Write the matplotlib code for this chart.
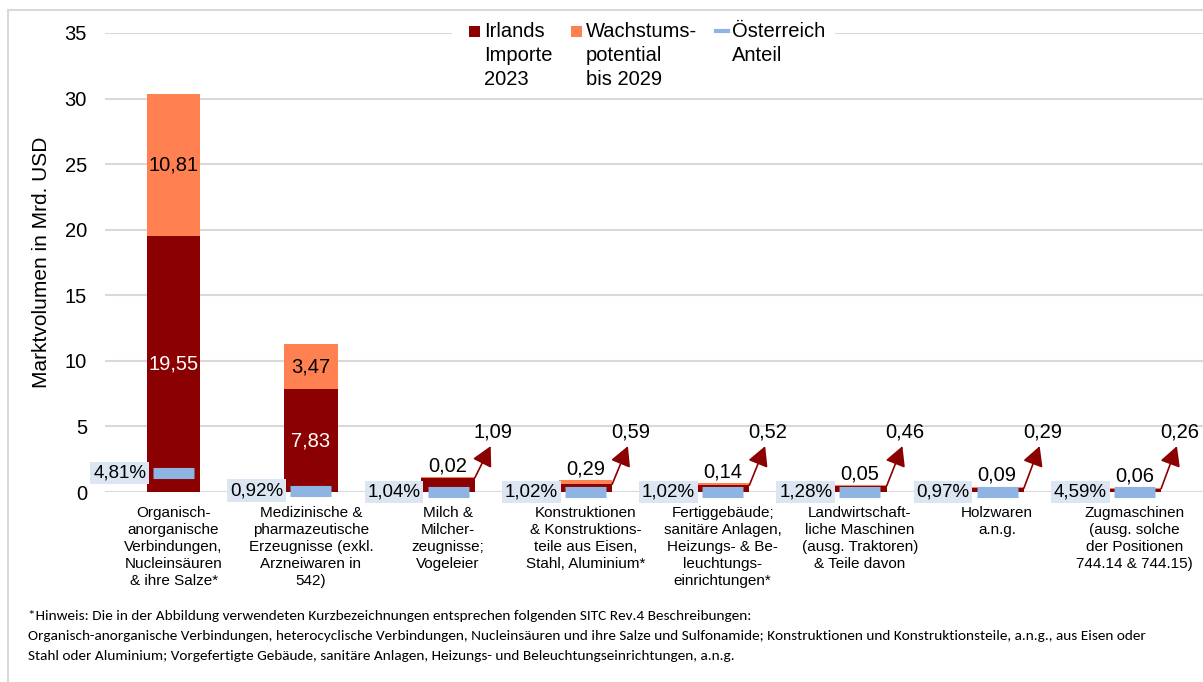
import numpy as np
import matplotlib
matplotlib.use('Agg')
import matplotlib.pyplot as plt
from matplotlib.patches import Rectangle
from matplotlib.lines import Line2D

plt.rcParams['font.family'] = ['Liberation Sans', 'DejaVu Sans']

# Daten (Mrd. USD)
kategorien = [
    'Organisch-\nanorganische\nVerbindungen,\nNucleinsäuren\n& ihre Salze*',
    'Medizinische &\npharmazeutische\nErzeugnisse (exkl.\nArzneiwaren in\n542)',
    'Milch &\nMilcher-\nzeugnisse;\nVogeleier',
    'Konstruktionen\n& Konstruktions-\nteile aus Eisen,\nStahl, Aluminium*',
    'Fertiggebäude;\nsanitäre Anlagen,\nHeizungs- & Be-\nleuchtungs-\neinrichtungen*',
    'Landwirtschaft-\nliche Maschinen\n(ausg. Traktoren)\n& Teile davon',
    'Holzwaren\na.n.g.',
    'Zugmaschinen\n(ausg. solche\nder Positionen\n744.14 & 744.15)',
]
importe_2023 = [19.55, 7.83, 1.09, 0.59, 0.52, 0.46, 0.29, 0.26]
wachstum_2029 = [10.81, 3.47, 0.02, 0.29, 0.14, 0.05, 0.09, 0.06]
anteil_at = [4.81, 0.92, 1.04, 1.02, 1.02, 1.28, 0.97, 4.59]
anteil_marker = [1.45, 0.10, 0.01, 0.01, 0.01, 0.01, 0.00, 0.01]

fussnote = ('*Hinweis: Die in der Abbildung verwendeten Kurzbezeichnungen entsprechen folgenden SITC Rev.4 Beschreibungen:\n'
            'Organisch-anorganische Verbindungen, heterocyclische Verbindungen, Nucleinsäuren und ihre Salze und Sulfonamide; '
            'Konstruktionen und Konstruktionsteile, a.n.g., aus Eisen oder\n'
            'Stahl oder Aluminium; Vorgefertigte Gebäude, sanitäre Anlagen, Heizungs- und Beleuchtungseinrichtungen, a.n.g.')

DUNKELROT = '#8B0000'
ORANGE = '#FF8050'
BLAU = '#8EB4E3'
BOX = '#DCE6F2'

def fmt(v):
    return f'{v:.2f}'.replace('.', ',')

W, H = 1203, 682
fig = plt.figure(figsize=(W / 100, H / 100), dpi=100)
ax = fig.add_axes([105 / W, 1 - 492 / H, 1 - 105 / W, (492 - 33) / H])

x = np.arange(len(kategorien))
bw = 0.39
ax.bar(x, importe_2023, bw, color=DUNKELROT, zorder=2)
ax.bar(x, wachstum_2029, bw, bottom=importe_2023, color=ORANGE, zorder=2)

# Österreich-Anteil Marker + Prozentlabels
for i in range(len(x)):
    ax.plot([x[i] - 0.15, x[i] + 0.15], [anteil_marker[i]] * 2, color=BLAU,
            lw=8, solid_capstyle='butt', zorder=3, clip_on=False)
    ax.text(x[i] - 0.2, anteil_marker[i], f'{anteil_at[i]:.2f}%'.replace('.', ','),
            ha='right', va='center', fontsize=13.5, zorder=4,
            bbox=dict(boxstyle='square,pad=0.15', fc=BOX, ec='none'))

# Wertelabels
for i in range(len(x)):
    total = importe_2023[i] + wachstum_2029[i]
    if importe_2023[i] > 5:
        ax.text(x[i], importe_2023[i] / 2, fmt(importe_2023[i]), ha='center', va='center',
                color='white', fontsize=14.5, zorder=4)
        ax.text(x[i], importe_2023[i] + wachstum_2029[i] / 2, fmt(wachstum_2029[i]),
                ha='center', va='center', color='black', fontsize=14.5, zorder=4)
    else:
        ax.annotate(fmt(wachstum_2029[i]), (x[i], total), xytext=(0, 1.5),
                    textcoords='offset points', ha='center', va='bottom', fontsize=14.5)
        ax.annotate('', xy=(x[i] + 0.31, 3.5), xytext=(x[i] + bw / 2, importe_2023[i]),
                    arrowprops=dict(arrowstyle='-|>,head_length=0.6,head_width=0.32',
                                    mutation_scale=20, color=DUNKELROT, lw=1.2,
                                    shrinkA=0, shrinkB=0), zorder=4)
        ax.text(x[i] + 0.33, 4.55, fmt(importe_2023[i]), ha='center', va='center', fontsize=14.5)

ax.set_xlim(-0.5, len(x) - 0.5)
ax.set_ylim(0, 35)
ax.set_yticks(range(0, 36, 5))
ax.yaxis.grid(True, color='#D9D9D9', lw=1.5, zorder=0)
ax.set_axisbelow(True)
for s in ax.spines.values():
    s.set_visible(False)
ax.tick_params(axis='y', length=0, pad=13, labelsize=14.5)
ax.tick_params(axis='x', length=0, pad=10)
ax.set_xticks(x)
ax.set_xticklabels(kategorien, fontsize=11, linespacing=1.27, va='top')
ax.set_ylabel('Marktvolumen in Mrd. USD', fontsize=15, labelpad=10)

# Legende (manuell, wie im Original)
fig.patches.append(Rectangle((452 / W, 1 - 92 / H), 383 / W, 72 / H, transform=fig.transFigure,
                             fc='white', ec='none', zorder=5))
leg = [(469, DUNKELROT, 'sq', 'Irlands\nImporte\n2023'),
       (571, ORANGE, 'sq', 'Wachstums-\npotential\nbis 2029'),
       (716, BLAU, 'ln', 'Österreich\nAnteil')]
for px, col, art, txt in leg:
    if art == 'sq':
        fig.patches.append(Rectangle((px / W, 1 - 37 / H), 11 / W, 11 / H, transform=fig.transFigure,
                                     fc=col, ec='none', zorder=6))
        tx = px + 15
    else:
        fig.lines.append(Line2D([px / W, (px + 12) / W], [1 - 31 / H] * 2, transform=fig.transFigure,
                                color=col, lw=3, zorder=6))
        tx = px + 16
    fig.text(tx / W, 1 - 22 / H, txt, ha='left', va='top', fontsize=14.5, linespacing=1.32, zorder=7)

# Rahmen
fig.patches.append(Rectangle((8 / W, -0.01), 1.1, 1 - 10 / H + 0.01, transform=fig.transFigure,
                             fc='none', ec='#D9D9D9', lw=1.5, zorder=0))

fig.text(28 / W, 1 - 610 / H, fussnote, ha='left', va='top', fontsize=11,
         family=['Carlito', 'Lato', 'Liberation Sans'], linespacing=1.8)

fig.savefig('out.png', dpi=100)
